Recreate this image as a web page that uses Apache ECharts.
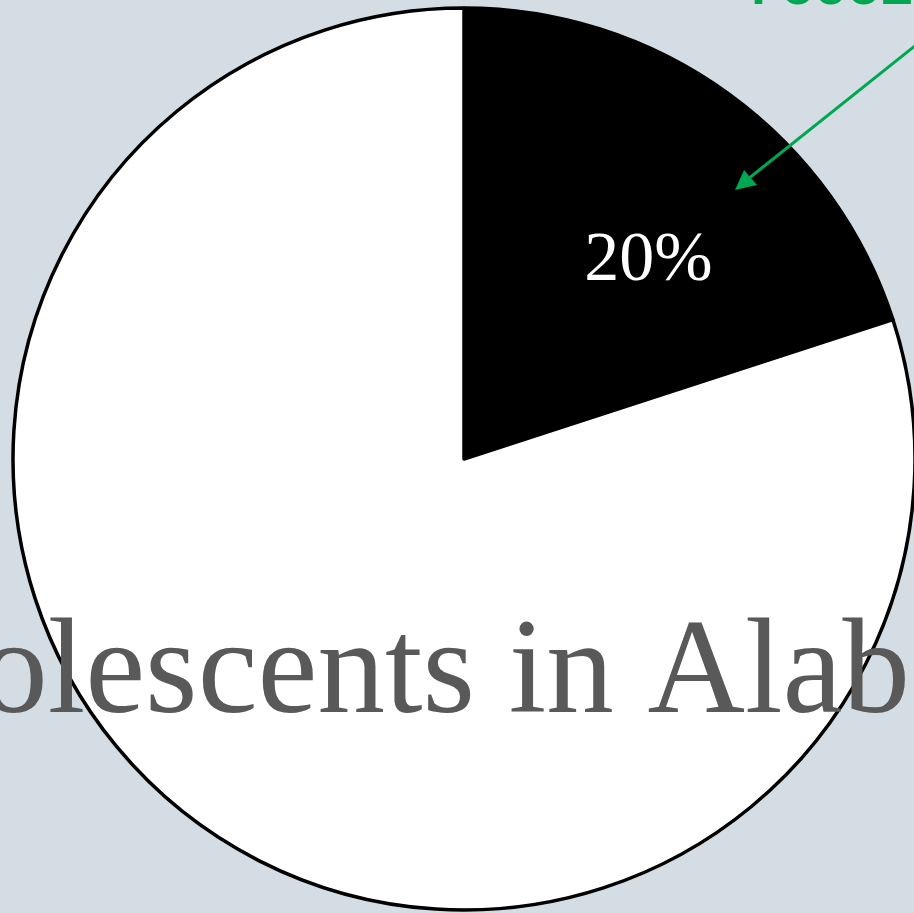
<!DOCTYPE html>
<html>
<head>
<meta charset="utf-8">
<script src="https://cdn.jsdelivr.net/npm/echarts@6/dist/echarts.min.js"></script>
<style>
html,body{margin:0;padding:0;background:#d4dde4;}
#c{width:914px;height:913px;}
</style>
</head>
<body>
<div id="c"></div>
<script>
var categories = ['Received', 'Did not receive'];
var values = [20, 80];
var sliceColors = ['#000000', '#ffffff'];
var titleText = 'Adolescents in Alabama';
var calloutText = 'received';

var chart = echarts.init(document.getElementById('c'), null, {renderer: 'canvas'});

var data = categories.map(function (c, i) {
  return {
    name: c,
    value: values[i],
    itemStyle: {color: sliceColors[i]},
    label: {show: i === 0}
  };
});

chart.setOption({
  backgroundColor: '#d4dde4',
  animation: false,
  series: [{
    type: 'pie',
    center: [464, 459],
    radius: 451,
    startAngle: 90,
    clockwise: true,
    silent: true,
    itemStyle: {borderColor: '#000', borderWidth: 3.5},
    label: {
      position: 'inside',
      formatter: function (p) { return Math.round(p.percent) + '%'; },
      color: '#fff',
      fontFamily: 'Liberation Serif',
      fontSize: 70,
      offset: [50, -13]
    },
    labelLine: {show: false},
    data: data
  }],
  graphic: [
    {
      type: 'text',
      x: 475, y: 677, z: 100,
      style: {
        text: titleText,
        font: '135px "Liberation Serif"',
        fill: '#595959',
        align: 'center',
        verticalAlign: 'middle'
      }
    },
    {
      type: 'text',
      x: 748, y: -10, z: 100,
      style: {
        text: calloutText,
        font: 'bold 55px "Liberation Mono"',
        fill: '#00a651',
        align: 'left',
        verticalAlign: 'middle'
      }
    },
    {
      type: 'line',
      z: 100,
      shape: {x1: 960, y1: 10, x2: 748, y2: 179},
      style: {stroke: '#00a651', lineWidth: 3}
    },
    {
      type: 'polygon',
      z: 100,
      shape: {points: [[735, 190], [744, 170], [757, 185]]},
      style: {fill: '#00a651'}
    }
  ]
});
</script>
</body>
</html>
